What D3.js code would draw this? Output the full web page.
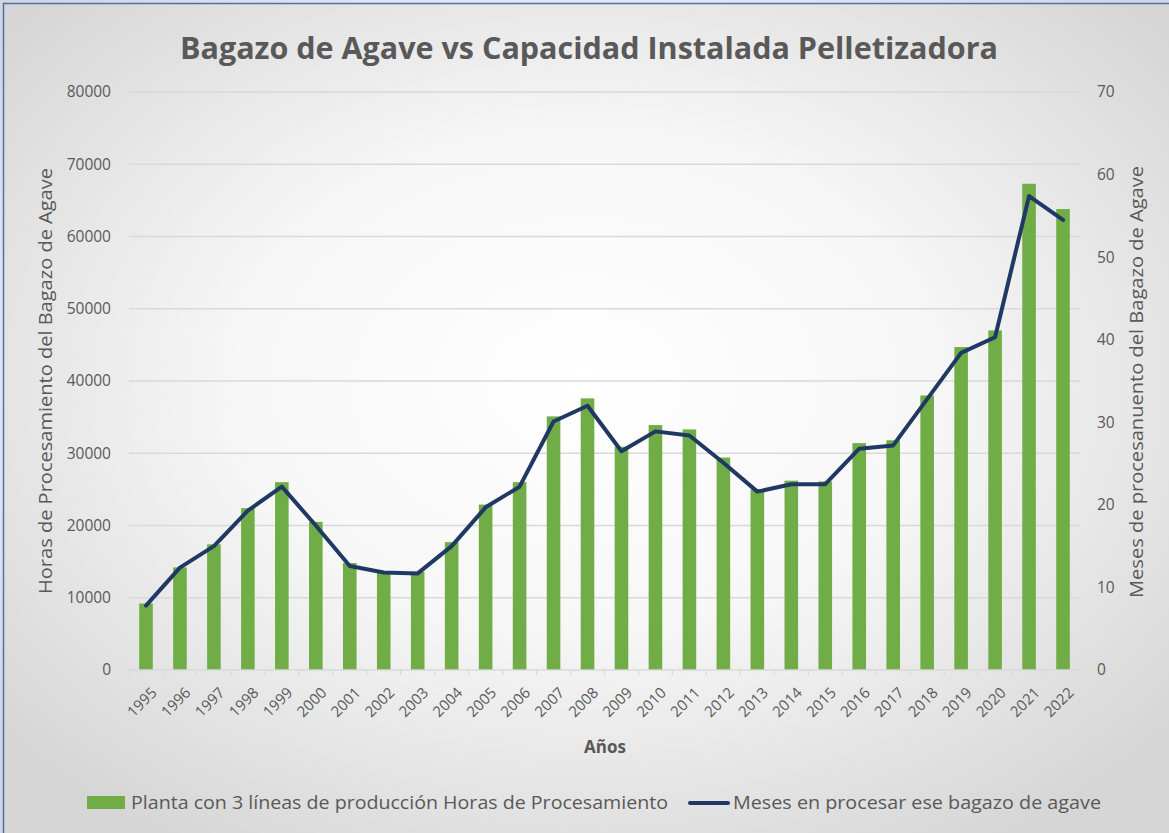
<!DOCTYPE html>
<html>
<head>
<meta charset="utf-8">
<script src="https://cdn.jsdelivr.net/npm/d3@7"></script>
<style>
  body { margin: 0; background: #fff; }
  svg { display: block; font-family: "Open Sans", "Noto Sans", sans-serif; }
</style>
</head>
<body>
<svg id="chart" width="1169" height="833"></svg>
<script>
// data
const years = ['1995','1996','1997','1998','1999','2000','2001','2002','2003','2004',
  '2005','2006','2007','2008','2009','2010','2011','2012','2013','2014',
  '2015','2016','2017','2018','2019','2020','2021','2022'];
const hours = [9200, 14200, 17400, 22400, 26000, 20500, 14800, 13600, 13600, 17700,
  22900, 26000, 35100, 37600, 30900, 33900, 33300, 29400, 25000, 26200,
  26100, 31400, 31800, 38000, 44700, 47000, 67300, 63800];
const months = [7.8, 12.4, 15.0, 19.3, 22.2, 17.5, 12.6, 11.8, 11.7, 15.0,
  19.7, 22.2, 30.1, 32.0, 26.5, 28.9, 28.4, 25.1, 21.6, 22.5,
  22.5, 26.8, 27.2, 32.8, 38.4, 40.3, 57.4, 54.5];
const leftTicks = [0, 10000, 20000, 30000, 40000, 50000, 60000, 70000, 80000];
const rightTicks = [0, 10, 20, 30, 40, 50, 60, 70];

const W = 1169, H = 833;
const margin = { top: 92, right: 89, bottom: 162, left: 129 };
const svg = d3.select('#chart');
const textCol = '#595959';

// background gradient
const defs = svg.append('defs');
const grad = defs.append('radialGradient').attr('id', 'bg')
  .attr('cx', '50%').attr('cy', '46%').attr('r', '65%');
grad.append('stop').attr('offset', '0%').attr('stop-color', '#ffffff');
grad.append('stop').attr('offset', '45%').attr('stop-color', '#f7f7f7');
grad.append('stop').attr('offset', '100%').attr('stop-color', '#d6d6d6');
svg.append('rect').attr('width', W).attr('height', H).attr('fill', 'url(#bg)');
// border
svg.append('path').attr('d', `M3.5,${H} V3.5 H${W}`)
  .attr('fill', 'none').attr('stroke', '#4472c4').attr('stroke-width', 1.5);

const x = d3.scaleBand().domain(years)
  .range([margin.left, W - margin.right]).paddingInner(0.6).paddingOuter(0.3);
const y = d3.scaleLinear().domain([0, 80000]).range([H - margin.bottom - 1, margin.top]);
const y2 = d3.scaleLinear().domain([0, 70]).range([H - margin.bottom - 1, margin.top]);
const x0 = margin.left, x1 = W - margin.right;

// gridlines
svg.append('g').selectAll('line').data(leftTicks.slice(1)).join('line')
  .attr('x1', x0).attr('x2', x1)
  .attr('y1', d => y(d)).attr('y2', d => y(d))
  .attr('stroke', '#d9d9d9').attr('stroke-width', 1.3);

// bars
svg.append('g').selectAll('rect').data(years).join('rect')
  .attr('x', d => x(d))
  .attr('width', x.bandwidth())
  .attr('y', (d, i) => y(hours[i]))
  .attr('height', (d, i) => y(0) - y(hours[i]))
  .attr('fill', '#70ad47');

// x axis line + ticks between categories
const xAxis = svg.append('g');
xAxis.append('line').attr('x1', x0).attr('x2', x1)
  .attr('y1', y(0)).attr('y2', y(0)).attr('stroke', '#d9d9d9').attr('stroke-width', 1.3);
xAxis.selectAll('line.tk').data(d3.range(years.length + 1)).join('line').attr('class', 'tk')
  .attr('x1', i => x0 + i * (x1 - x0) / years.length)
  .attr('x2', i => x0 + i * (x1 - x0) / years.length)
  .attr('y1', y(0)).attr('y2', y(0) + 5)
  .attr('stroke', '#d9d9d9').attr('stroke-width', 1.3);
xAxis.selectAll('text').data(years).join('text')
  .attr('transform', d => `translate(${x(d) + x.bandwidth() / 2 + 8},${y(0) + 20}) rotate(-45)`)
  .attr('text-anchor', 'end').attr('dy', '0.35em')
  .attr('font-size', 15).attr('fill', textCol)
  .text(d => d);

// line series
const line = d3.line().x((d, i) => x(years[i]) + x.bandwidth() / 2).y(d => y2(d));
svg.append('path').datum(months)
  .attr('d', line).attr('fill', 'none')
  .attr('stroke', '#203864').attr('stroke-width', 4)
  .attr('stroke-linejoin', 'round').attr('stroke-linecap', 'round');

// left axis labels
svg.append('g').selectAll('text').data(leftTicks).join('text')
  .attr('x', 111).attr('y', d => y(d)).attr('dy', '0.35em')
  .attr('text-anchor', 'end').attr('font-size', 15.5).attr('fill', textCol)
  .text(d => d);
// right axis labels
svg.append('g').selectAll('text').data(rightTicks).join('text')
  .attr('x', 1097).attr('y', d => y2(d)).attr('dy', '0.35em')
  .attr('text-anchor', 'start').attr('font-size', 15.5).attr('fill', textCol)
  .text(d => d);

// title
svg.append('text').attr('x', 589).attr('y', 59).attr('text-anchor', 'middle')
  .attr('font-size', 31).attr('font-weight', 'bold').attr('fill', textCol)
  .attr('textLength', 818).attr('lengthAdjust', 'spacingAndGlyphs')
  .text('Bagazo de Agave vs Capacidad Instalada Pelletizadora');

// axis titles
svg.append('text').attr('transform', 'translate(52,381) rotate(-90)')
  .attr('text-anchor', 'middle').attr('font-size', 19).attr('fill', textCol)
  .attr('textLength', 426).attr('lengthAdjust', 'spacingAndGlyphs')
  .text('Horas de Procesamiento del Bagazo de Agave');
svg.append('text').attr('transform', 'translate(1143,382) rotate(-90)')
  .attr('text-anchor', 'middle').attr('font-size', 19).attr('fill', textCol)
  .attr('textLength', 432).attr('lengthAdjust', 'spacingAndGlyphs')
  .text('Meses de procesanuento del Bagazo de Agave');
svg.append('text').attr('x', 605).attr('y', 753).attr('text-anchor', 'middle')
  .attr('font-size', 17).attr('font-weight', 'bold').attr('fill', textCol)
  .text('Años');

// legend
const lg = svg.append('g');
lg.append('rect').attr('x', 87).attr('y', 796).attr('width', 38).attr('height', 13).attr('fill', '#70ad47');
lg.append('text').attr('x', 131).attr('y', 803).attr('dy', '0.35em')
  .attr('font-size', 18).attr('fill', textCol)
  .attr('textLength', 537).attr('lengthAdjust', 'spacingAndGlyphs')
  .text('Planta con 3 líneas de producción Horas de Procesamiento');
lg.append('line').attr('x1', 690).attr('x2', 728).attr('y1', 803).attr('y2', 803)
  .attr('stroke', '#203864').attr('stroke-width', 4).attr('stroke-linecap', 'round');
lg.append('text').attr('x', 733).attr('y', 803).attr('dy', '0.35em')
  .attr('font-size', 18).attr('fill', textCol)
  .attr('textLength', 368).attr('lengthAdjust', 'spacingAndGlyphs')
  .text('Meses en procesar ese bagazo de agave');
</script>
</body>
</html>
